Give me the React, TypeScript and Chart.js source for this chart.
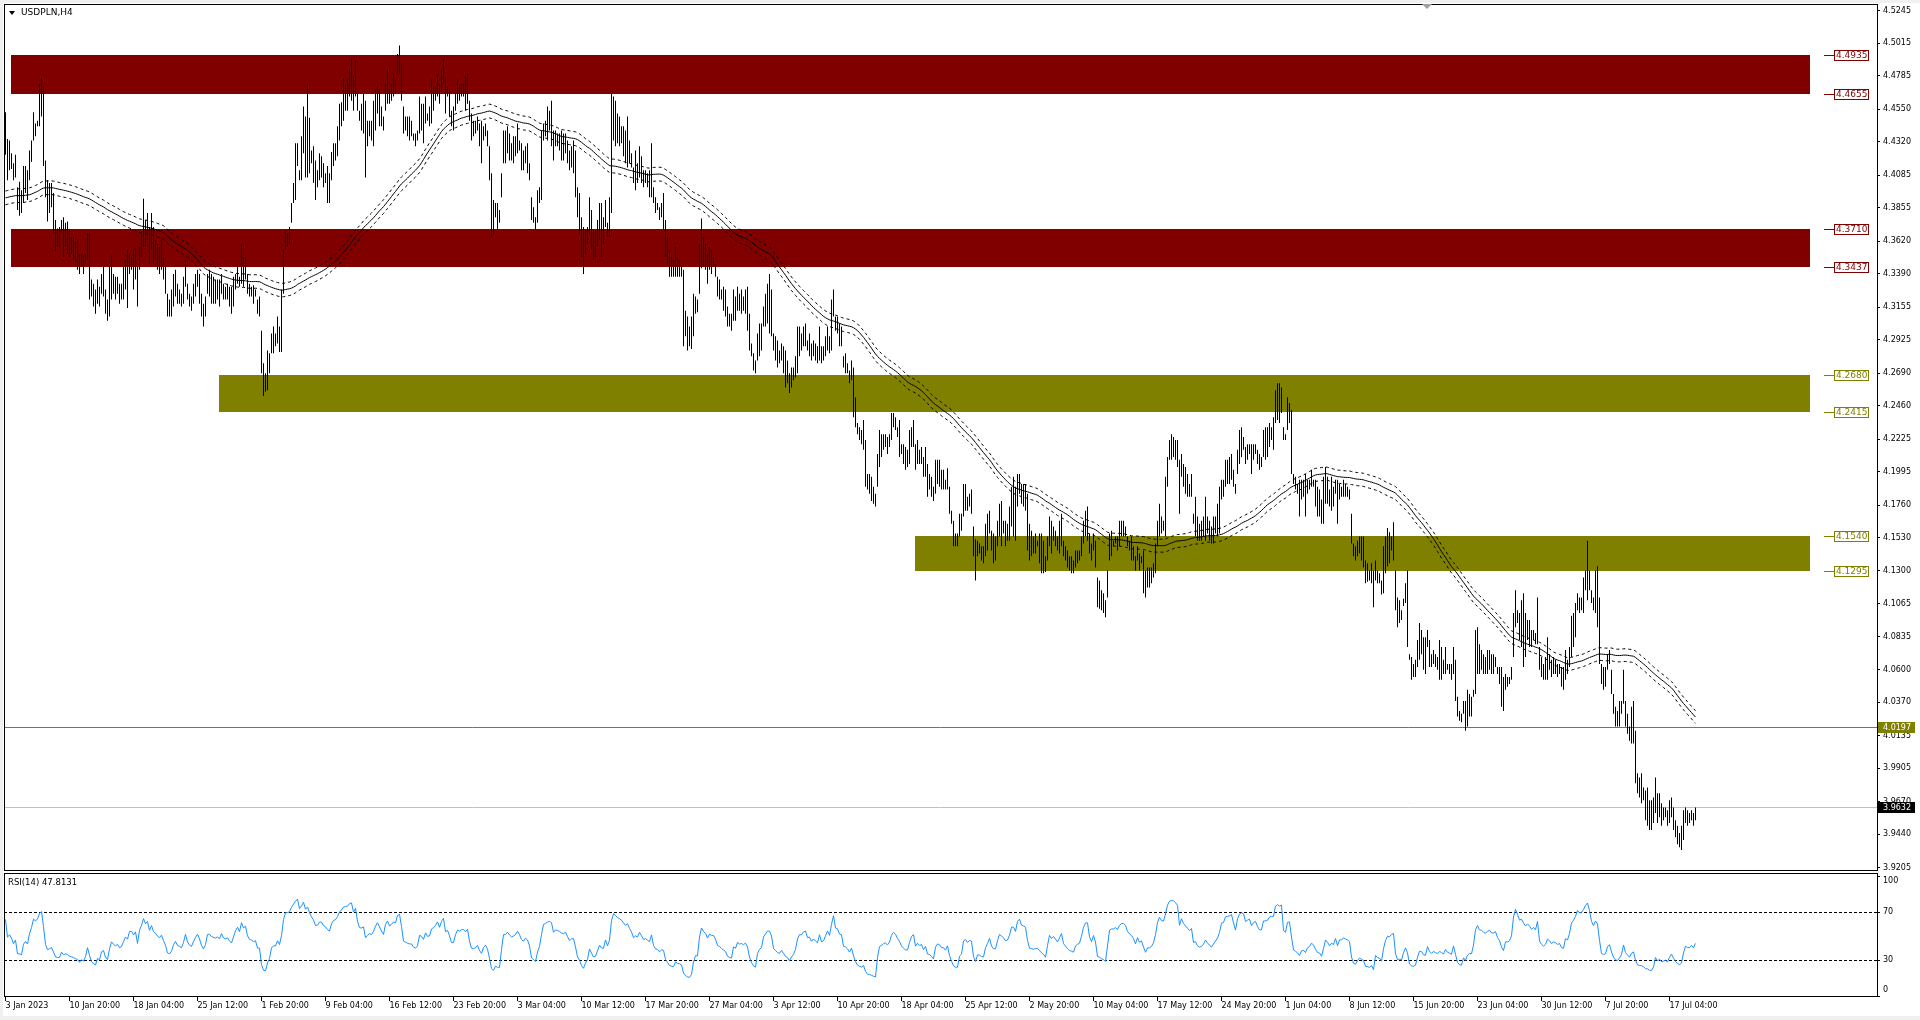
import React, { useEffect, useRef } from 'react';
import { Chart, registerables } from 'chart.js';

Chart.register(...registerables);

// ---- H4 bar highs / lows (USDPLN), one entry per bar ----
const HIGH = [
4.453,4.434,4.433,4.424,4.417,4.423,4.400,4.404,4.398,4.415,
4.415,4.412,4.426,4.433,4.453,4.445,4.447,4.473,4.477,4.471,
4.419,4.405,4.403,4.403,4.396,4.377,4.371,4.372,4.377,4.379,
4.375,4.376,4.370,4.365,4.365,4.362,4.363,4.353,4.353,4.352,
4.353,4.368,4.368,4.335,4.332,4.328,4.335,4.330,4.339,4.344,
4.328,4.321,4.344,4.352,4.339,4.337,4.337,4.332,4.332,4.344,
4.349,4.356,4.353,4.351,4.356,4.357,4.344,4.358,4.368,4.392,
4.377,4.382,4.372,4.382,4.372,4.363,4.360,4.358,4.363,4.351,
4.344,4.325,4.321,4.328,4.339,4.342,4.332,4.328,4.325,4.337,
4.349,4.332,4.325,4.323,4.332,4.339,4.342,4.339,4.325,4.318,
4.323,4.339,4.342,4.339,4.337,4.335,4.335,4.335,4.339,4.332,
4.330,4.332,4.330,4.330,4.337,4.339,4.344,4.337,4.360,4.351,
4.351,4.339,4.332,4.330,4.331,4.328,4.321,4.323,4.299,4.276,
4.269,4.285,4.283,4.297,4.302,4.297,4.309,4.302,4.328,4.356,
4.369,4.368,4.372,4.389,4.403,4.431,4.431,4.412,4.436,4.457,
4.450,4.472,4.449,4.426,4.429,4.419,4.412,4.424,4.422,4.417,
4.410,4.415,4.410,4.425,4.431,4.431,4.443,4.459,4.460,4.477,
4.472,
4.476,4.483,4.491,4.478,4.490,4.466,4.454,4.459,4.466,4.461,
4.447,4.447,4.447,4.461,4.469,4.471,4.469,4.457,4.450,4.473,
4.483,4.469,4.473,4.480,4.476,4.494,4.500,4.487,4.457,4.450,
4.450,4.450,4.447,4.438,4.438,4.440,4.464,4.459,4.459,4.464,
4.452,4.457,4.476,4.471,4.471,4.480,4.473,4.483,4.491,4.478,
4.471,4.469,4.454,4.457,4.466,4.476,4.471,4.473,4.473,4.478,
4.480,4.461,4.452,4.447,4.447,4.450,4.445,4.447,4.443,4.445,
4.440,4.429,4.410,4.391,4.389,4.389,4.384,4.410,4.440,4.440,
4.443,4.438,4.431,4.436,4.436,4.445,4.433,4.431,4.426,4.429,
4.431,4.417,4.393,4.386,4.379,4.398,4.400,4.440,4.445,4.447,
4.457,4.454,4.461,4.440,4.440,4.438,4.438,4.440,4.438,4.438,
4.433,4.426,4.429,4.433,4.426,4.400,4.396,4.379,4.372,4.370,
4.372,4.393,4.384,4.370,4.370,4.377,4.389,4.389,4.379,4.391,
4.375,4.393,4.466,4.464,4.461,4.452,4.450,4.443,4.443,4.440,
4.450,4.433,4.424,4.414,4.426,4.417,4.429,4.422,4.412,4.412,
4.410,4.412,4.431,4.400,4.393,4.389,4.386,4.389,4.396,4.377,
4.365,4.356,4.351,4.349,4.358,4.351,4.349,4.344,4.342,4.313,
4.309,4.302,4.309,4.325,4.323,4.321,4.360,4.378,4.365,4.360,
4.353,4.358,4.356,4.351,4.346,4.337,4.335,4.328,4.330,4.328,
4.316,4.311,4.311,4.328,4.323,4.330,4.325,4.328,4.323,4.328,
4.330,4.311,4.290,4.283,4.278,4.297,4.304,4.304,4.316,4.325,
4.332,4.339,4.328,4.297,4.295,4.292,4.285,4.290,4.288,4.285,
4.278,4.269,4.273,4.273,4.281,4.302,4.302,4.297,4.302,4.304,
4.292,4.297,4.290,4.292,4.290,4.288,4.302,4.288,4.288,4.295,
4.302,4.295,4.321,4.328,4.309,4.309,4.304,4.302,4.281,4.283,
4.276,4.271,4.278,4.273,4.252,4.234,4.231,4.229,4.236,4.222,
4.198,4.198,4.196,4.189,4.184,4.212,4.229,4.226,4.226,4.226,
4.224,4.226,4.241,4.241,4.238,4.231,4.236,4.219,4.219,4.217,
4.215,4.229,4.231,4.236,4.219,4.222,4.215,4.217,4.210,4.217,
4.205,4.198,4.196,4.189,4.208,4.208,4.208,4.201,4.201,4.194,
4.202,4.189,4.172,4.165,4.156,4.156,4.170,4.170,4.191,4.191,
4.182,4.184,4.187,4.161,4.152,4.151,4.149,4.147,4.147,4.163,
4.170,4.172,4.158,4.156,4.154,4.165,4.177,4.179,4.165,4.165,
4.163,4.175,4.189,4.196,4.189,4.198,4.198,4.191,4.191,4.191,
4.184,4.163,4.158,4.154,4.156,4.151,4.156,4.156,4.151,4.140,
4.154,4.168,4.165,4.161,4.158,4.154,4.165,4.170,4.151,4.147,
4.144,4.140,4.140,4.137,4.144,4.144,4.144,4.154,4.165,4.172,
4.175,4.156,4.149,4.156,4.151,4.125,4.123,4.116,4.114,4.109,
4.130,4.156,4.158,4.151,4.154,4.154,4.165,4.165,4.165,4.161,
4.154,4.151,4.154,4.147,4.140,4.147,4.142,4.140,4.144,4.130,
4.132,4.132,4.132,4.135,4.149,4.165,4.177,4.168,4.165,4.196,
4.210,4.222,4.226,4.224,4.222,4.222,4.208,4.212,4.205,4.203,
4.198,4.191,4.198,4.170,4.182,4.168,4.163,4.165,4.168,4.182,
4.168,4.165,4.161,4.168,4.168,4.177,4.189,4.194,4.194,4.208,
4.208,4.210,4.212,4.201,4.191,4.215,4.229,4.231,4.224,4.217,
4.219,4.219,4.219,4.219,4.219,4.215,4.212,4.210,4.229,4.231,
4.231,4.234,4.231,4.238,4.257,4.262,4.262,4.259,4.231,4.226,
4.252,4.248,4.243,4.198,4.196,4.191,4.194,4.194,4.194,4.198,
4.194,4.194,4.201,4.194,4.194,4.189,4.187,4.180,4.196,4.203,
4.196,4.187,4.196,4.189,4.194,4.194,4.191,4.189,4.194,4.191,
4.189,4.187,4.170,4.149,4.147,4.151,4.154,4.154,4.154,4.137,
4.135,4.130,4.135,4.130,4.137,4.130,4.128,4.123,4.147,4.154,
4.160,4.157,4.154,4.164,4.130,4.111,4.109,4.102,4.110,4.121,
4.130,4.071,4.069,4.064,4.067,4.081,4.093,4.088,4.083,4.083,
4.088,4.081,4.071,4.074,4.071,4.069,4.081,4.076,4.067,4.076,
4.064,4.064,4.064,4.076,4.067,4.041,4.031,4.029,4.038,4.038,
4.046,4.043,4.041,4.046,4.088,4.090,4.078,4.074,4.071,4.069,
4.074,4.074,4.071,4.071,4.069,4.062,4.062,4.062,4.055,4.057,
4.055,4.055,4.062,4.100,4.116,4.102,4.100,4.109,4.114,4.100,
4.095,4.095,4.088,4.088,4.086,4.111,4.076,4.069,4.064,4.069,
4.083,4.071,4.067,4.069,4.067,4.064,4.064,4.062,4.062,4.074,
4.067,4.076,4.098,4.100,4.107,4.114,4.111,4.111,4.125,4.130,
4.151,4.130,4.116,4.111,4.130,4.133,4.111,4.064,4.062,4.062,
4.071,4.074,4.060,4.043,4.034,4.031,4.038,4.038,4.060,4.038,
4.029,4.020,4.034,4.038,4.017,3.987,3.984,3.987,3.977,3.975,
3.977,3.968,3.968,3.970,3.984,3.973,3.973,3.966,3.963,3.963,
3.961,3.968,3.970,3.963,3.954,3.950,3.945,3.950,3.961,3.963,
3.961,3.959,3.961,3.959,3.963
];

const LOW = [
4.423,4.405,4.412,4.413,4.405,4.407,4.384,4.380,4.382,4.389,
4.396,4.391,4.405,4.418,4.433,4.436,4.443,4.443,4.450,4.415,
4.393,4.376,4.382,4.386,4.368,4.355,4.358,4.357,4.368,4.351,
4.358,4.353,4.351,4.353,4.349,4.347,4.342,4.339,4.344,4.339,
4.346,4.349,4.321,4.323,4.316,4.311,4.318,4.316,4.325,4.323,
4.311,4.306,4.309,4.321,4.325,4.321,4.325,4.318,4.321,4.321,
4.328,4.315,4.339,4.342,4.328,4.335,4.316,4.342,4.351,4.358,
4.358,4.363,4.346,4.356,4.346,4.349,4.342,4.339,4.342,4.335,
4.325,4.309,4.309,4.309,4.316,4.323,4.318,4.318,4.316,4.318,
4.330,4.321,4.316,4.313,4.318,4.323,4.330,4.318,4.309,4.302,
4.309,4.325,4.323,4.318,4.318,4.318,4.321,4.316,4.325,4.321,
4.321,4.321,4.316,4.311,4.316,4.328,4.332,4.330,4.332,4.330,
4.335,4.325,4.323,4.323,4.318,4.323,4.311,4.309,4.269,4.253,
4.256,4.257,4.269,4.283,4.283,4.288,4.290,4.284,4.284,4.325,
4.356,4.358,4.360,4.375,4.389,4.391,4.415,4.405,4.405,4.424,
4.407,4.407,4.410,4.417,4.403,4.391,4.400,4.405,4.407,4.400,
4.403,4.389,4.389,4.405,4.415,4.419,4.422,4.433,4.443,4.447,
4.454,
4.454,4.464,4.461,4.454,4.464,4.454,4.447,4.440,4.438,4.407,
4.429,4.436,4.433,4.429,4.440,4.452,4.443,4.443,4.440,4.454,
4.459,4.459,4.461,4.464,4.466,4.480,4.480,4.461,4.438,4.440,
4.436,4.433,4.436,4.433,4.429,4.433,4.438,4.440,4.431,4.445,
4.447,4.443,4.445,4.454,4.461,4.464,4.459,4.469,4.473,4.452,
4.464,4.450,4.443,4.440,4.454,4.459,4.461,4.464,4.464,4.454,
4.459,4.447,4.433,4.436,4.438,4.440,4.429,4.417,4.433,4.436,
4.429,4.405,4.365,4.367,4.379,4.370,4.375,4.393,4.417,4.417,
4.424,4.419,4.419,4.417,4.422,4.424,4.426,4.412,4.412,4.417,
4.410,4.405,4.377,4.375,4.370,4.375,4.389,4.391,4.433,4.436,
4.433,4.440,4.429,4.419,4.429,4.429,4.426,4.419,4.419,4.424,
4.417,4.412,4.414,4.410,4.393,4.379,4.367,4.351,4.339,4.353,
4.360,4.367,4.356,4.349,4.351,4.358,4.363,4.351,4.360,4.372,
4.365,4.365,4.382,4.433,4.429,4.431,4.429,4.431,4.422,4.417,
4.414,4.417,4.414,4.403,4.398,4.403,4.407,4.403,4.400,4.403,
4.400,4.393,4.393,4.389,4.382,4.384,4.377,4.379,4.370,4.351,
4.346,4.337,4.337,4.337,4.337,4.337,4.337,4.337,4.288,4.295,
4.285,4.288,4.286,4.295,4.311,4.312,4.325,4.343,4.344,4.342,
4.332,4.342,4.339,4.344,4.337,4.323,4.321,4.321,4.313,4.309,
4.302,4.302,4.299,4.306,4.306,4.313,4.313,4.311,4.313,4.311,
4.299,4.285,4.281,4.271,4.269,4.278,4.281,4.285,4.302,4.302,
4.304,4.297,4.295,4.285,4.278,4.273,4.276,4.278,4.269,4.259,
4.262,4.255,4.259,4.264,4.266,4.269,4.281,4.285,4.288,4.288,
4.285,4.281,4.278,4.281,4.278,4.276,4.278,4.276,4.278,4.281,
4.285,4.283,4.285,4.309,4.299,4.297,4.288,4.288,4.273,4.269,
4.269,4.262,4.264,4.238,4.231,4.226,4.222,4.219,4.215,4.189,
4.187,4.184,4.179,4.177,4.175,4.189,4.203,4.210,4.215,4.217,
4.212,4.217,4.222,4.231,4.229,4.224,4.210,4.212,4.205,4.201,
4.203,4.205,4.217,4.217,4.201,4.205,4.205,4.205,4.196,4.196,
4.182,4.187,4.182,4.179,4.184,4.191,4.189,4.187,4.187,4.187,
4.187,4.170,4.163,4.147,4.147,4.147,4.154,4.158,4.168,4.172,
4.172,4.175,4.170,4.140,4.123,4.140,4.142,4.137,4.135,4.140,
4.144,4.156,4.144,4.135,4.137,4.147,4.154,4.147,4.156,4.147,
4.151,4.151,4.161,4.154,4.151,4.175,4.184,4.177,4.175,4.172,
4.144,4.137,4.140,4.142,4.142,4.147,4.135,4.128,4.128,4.129,
4.137,4.147,4.142,4.151,4.147,4.144,4.142,4.147,4.140,4.137,
4.132,4.130,4.128,4.128,4.132,4.135,4.137,4.140,4.149,4.154,
4.151,4.142,4.137,4.144,4.132,4.104,4.103,4.102,4.100,4.097,
4.111,4.137,4.140,4.147,4.149,4.144,4.147,4.154,4.154,4.154,
4.147,4.144,4.137,4.137,4.130,4.137,4.130,4.135,4.114,4.111,
4.118,4.118,4.121,4.125,4.128,4.147,4.154,4.156,4.158,4.154,
4.189,4.208,4.208,4.210,4.208,4.203,4.170,4.196,4.189,4.184,
4.182,4.182,4.182,4.163,4.154,4.151,4.151,4.151,4.154,4.151,
4.156,4.151,4.149,4.149,4.156,4.154,4.156,4.180,4.182,4.189,
4.191,4.191,4.194,4.189,4.184,4.198,4.205,4.210,4.215,4.205,
4.208,4.212,4.198,4.208,4.212,4.205,4.201,4.203,4.210,4.208,
4.210,4.217,4.222,4.215,4.234,4.236,4.234,4.241,4.222,4.222,
4.229,4.234,4.198,4.191,4.187,4.184,4.168,4.180,4.182,4.168,
4.184,4.187,4.189,4.189,4.175,4.168,4.168,4.163,4.163,4.177,
4.177,4.175,4.172,4.175,4.184,4.163,4.180,4.182,4.182,4.182,
4.182,4.180,4.149,4.140,4.137,4.140,4.142,4.137,4.132,4.121,
4.122,4.123,4.121,4.104,4.123,4.121,4.121,4.113,4.114,4.128,
4.133,4.135,4.144,4.137,4.102,4.090,4.093,4.095,4.105,4.107,
4.076,4.067,4.053,4.055,4.055,4.062,4.067,4.071,4.060,4.057,
4.076,4.062,4.062,4.064,4.062,4.060,4.053,4.053,4.057,4.057,
4.060,4.057,4.053,4.057,4.038,4.027,4.024,4.023,4.029,4.017,
4.020,4.027,4.027,4.041,4.043,4.057,4.057,4.060,4.057,4.057,
4.057,4.060,4.057,4.057,4.062,4.057,4.050,4.034,4.031,4.046,
4.048,4.050,4.053,4.069,4.090,4.093,4.081,4.076,4.062,4.069,
4.081,4.076,4.076,4.081,4.078,4.078,4.060,4.055,4.053,4.053,
4.053,4.060,4.055,4.057,4.057,4.055,4.057,4.048,4.046,4.053,
4.057,4.062,4.069,4.076,4.083,4.102,4.100,4.102,4.100,4.116,
4.109,4.116,4.107,4.102,4.100,4.090,4.064,4.050,4.046,4.048,
4.060,4.064,4.043,4.029,4.020,4.020,4.020,4.029,4.036,4.020,
4.015,4.010,4.008,4.008,3.980,3.973,3.970,3.966,3.968,3.954,
3.950,3.947,3.947,3.952,3.959,3.952,3.956,3.950,3.954,3.956,
3.950,3.952,3.956,3.947,3.942,3.937,3.935,3.933,3.940,3.952,
3.950,3.952,3.954,3.950,3.954
];

// ---- axes ----
const PRICE_TICKS = [4.5245, 4.5015, 4.4785, 4.4550, 4.4320, 4.4085, 4.3855, 4.3620, 4.3390, 4.3155,
  4.2925, 4.2690, 4.2460, 4.2225, 4.1995, 4.1760, 4.1530, 4.1300, 4.1065, 4.0835, 4.0600, 4.0370,
  4.0135, 3.9905, 3.9670, 3.9440, 3.9205];
const PRICE_MIN = 3.91819;
const PRICE_MAX = 4.52922;
const TIME_LABELS = ['3 Jan 2023', '10 Jan 20:00', '18 Jan 04:00', '25 Jan 12:00', '1 Feb 20:00', '9 Feb 04:00',
  '16 Feb 12:00', '23 Feb 20:00', '3 Mar 04:00', '10 Mar 12:00', '17 Mar 20:00', '27 Mar 04:00', '3 Apr 12:00',
  '10 Apr 20:00', '18 Apr 04:00', '25 Apr 12:00', '2 May 20:00', '10 May 04:00', '17 May 12:00', '24 May 20:00',
  '1 Jun 04:00', '8 Jun 12:00', '15 Jun 20:00', '23 Jun 04:00', '30 Jun 12:00', '7 Jul 20:00', '17 Jul 04:00'];
const TIME_LABEL_BARS = [0, 32, 64, 96, 128, 160, 192, 224, 256, 288, 320, 352, 384, 416, 448, 480, 512, 544,
  576, 608, 640, 672, 704, 736, 768, 800, 832];
const BAR_MIN = -0.75;
const BAR_MAX = 935.75;

// ---- zones / levels ----
const ZONE_TOP = [4.4935, 4.3710, 4.2680, 4.1540];
const ZONE_BOTTOM = [4.4655, 4.3437, 4.2415, 4.1295];
const ZONE_START_BAR = [2.75, 2.75, 106.75, 454.75];
const ZONE_END_BAR = 902.25;
const ZONE_COLOR = ['#800000', '#800000', '#808000', '#808000'];
const SUPPORT_LEVEL = 4.0197;
const LAST_PRICE = 3.9632;

// ---- indicators ----
const MA_PERIOD = 80;
const MA_SEED = 4.392;
const ENVELOPE_DEV = 0.0011;
const RSI_PERIOD = 14;
const RSI_SEED_GAIN = 0.0030;
const RSI_SEED_LOSS = 0.0017;
const RSI_LEVELS = [70, 30];
const RSI_TICKS = [100, 70, 30, 0];
const RSI_TEXT = 'RSI(14) 47.8131';
const RSI_MIN = -0.83;
const RSI_MAX = 102.5;

const FONT = 'DejaVu Sans';

const median = HIGH.map((h, i) => (h + LOW[i]) / 2);

function smaSeries(): number[] {
  return median.map((_, i) => {
    let s = 0;
    for (let j = i - MA_PERIOD + 1; j <= i; j++) s += j >= 0 ? median[j] : MA_SEED;
    return s / MA_PERIOD;
  });
}

function rsiSeries(): number[] {
  const out: number[] = [];
  let ag = RSI_SEED_GAIN, al = RSI_SEED_LOSS;
  for (let i = 0; i < median.length; i++) {
    if (i > 0) {
      const d = median[i] - median[i - 1];
      const g = Math.max(d, 0), l = Math.max(-d, 0);
      ag = (ag * (RSI_PERIOD - 1) + g) / RSI_PERIOD;
      al = (al * (RSI_PERIOD - 1) + l) / RSI_PERIOD;
    }
    out.push(al === 0 ? 100 : 100 - 100 / (1 + ag / al));
  }
  return out;
}

const zeroPad = (scale: any) => {
  scale.paddingTop = 0; scale.paddingBottom = 0; scale.paddingLeft = 0; scale.paddingRight = 0;
};

function priceTag(ctx: CanvasRenderingContext2D, yPix: number, value: number, color: string) {
  const yc = Math.round(yPix) + 0.5;
  ctx.strokeStyle = color;
  ctx.lineWidth = 1;
  ctx.beginPath(); ctx.moveTo(1824, yc); ctx.lineTo(1834, yc); ctx.stroke();
  ctx.fillStyle = '#ffffff';
  ctx.fillRect(1834, yc - 5.5, 35, 11);
  ctx.strokeRect(1834.5, yc - 5, 34, 10);
  ctx.fillStyle = color;
  ctx.font = `9px "${FONT}"`;
  ctx.textAlign = 'left';
  ctx.textBaseline = 'middle';
  ctx.fillText(value.toFixed(4), 1836, yc + 0.5);
}

function axisTag(ctx: CanvasRenderingContext2D, yPix: number, value: number, bg: string) {
  const yc = Math.round(yPix);
  ctx.fillStyle = bg;
  ctx.fillRect(1878, yc - 5, 37, 11);
  ctx.fillStyle = '#ffffff';
  ctx.font = `8px "${FONT}"`;
  ctx.textAlign = 'left';
  ctx.textBaseline = 'middle';
  ctx.fillText(value.toFixed(4), 1883, yc + 0.5);
}

const mainDecor = {
  id: 'mainDecor',
  beforeDatasetsDraw(chart: any) {
    const { ctx, chartArea: a } = chart;
    const x = chart.scales.x, y = chart.scales.y;
    ctx.save();
    ctx.beginPath(); ctx.rect(a.left, a.top, a.right - a.left, a.bottom - a.top); ctx.clip();
    ZONE_TOP.forEach((top, k) => {
      const x0 = Math.round(x.getPixelForValue(ZONE_START_BAR[k]));
      const x1 = Math.round(x.getPixelForValue(ZONE_END_BAR));
      const y0 = Math.round(y.getPixelForValue(top));
      const y1 = Math.round(y.getPixelForValue(ZONE_BOTTOM[k]));
      ctx.fillStyle = ZONE_COLOR[k];
      ctx.fillRect(x0, y0, x1 - x0, y1 - y0);
    });
    const ys = Math.round(y.getPixelForValue(SUPPORT_LEVEL)) + 0.5;
    ctx.strokeStyle = '#808000'; ctx.lineWidth = 1;
    ctx.beginPath(); ctx.moveTo(a.left, ys); ctx.lineTo(a.right, ys); ctx.stroke();
    const yl = Math.round(y.getPixelForValue(LAST_PRICE)) + 0.5;
    ctx.strokeStyle = '#C0C0C0';
    ctx.beginPath(); ctx.moveTo(a.left, yl); ctx.lineTo(a.right, yl); ctx.stroke();
    ctx.restore();
  },
  afterDraw(chart: any) {
    const { ctx } = chart;
    const y = chart.scales.y;
    ctx.save();
    ZONE_TOP.forEach((top, k) => {
      priceTag(ctx, y.getPixelForValue(top), top, ZONE_COLOR[k]);
      priceTag(ctx, y.getPixelForValue(ZONE_BOTTOM[k]), ZONE_BOTTOM[k], ZONE_COLOR[k]);
    });
    axisTag(ctx, y.getPixelForValue(SUPPORT_LEVEL), SUPPORT_LEVEL, '#808000');
    axisTag(ctx, y.getPixelForValue(LAST_PRICE), LAST_PRICE, '#000000');
    ctx.strokeStyle = '#000'; ctx.lineWidth = 1;
    ctx.strokeRect(4.5, 4.5, 1873, 866);
    ctx.fillStyle = '#000';
    ctx.beginPath(); ctx.moveTo(9, 11); ctx.lineTo(15, 11); ctx.lineTo(12, 15); ctx.closePath(); ctx.fill();
    ctx.font = `9px "${FONT}"`;
    ctx.textAlign = 'left'; ctx.textBaseline = 'middle';
    ctx.fillText('USDPLN,H4', 21, 13);
    ctx.fillStyle = '#A0A0A0';
    ctx.beginPath(); ctx.moveTo(1422, 4); ctx.lineTo(1432, 4); ctx.lineTo(1427, 9); ctx.closePath(); ctx.fill();
    ctx.restore();
  },
};

const rsiDecor = {
  id: 'rsiDecor',
  beforeDatasetsDraw(chart: any) {
    const { ctx, chartArea: a } = chart;
    const y = chart.scales.y;
    ctx.save();
    ctx.strokeStyle = '#000'; ctx.lineWidth = 1; ctx.setLineDash([3, 2]);
    RSI_LEVELS.forEach((lv) => {
      const yy = Math.round(y.getPixelForValue(lv)) + 0.5;
      ctx.beginPath(); ctx.moveTo(a.left, yy); ctx.lineTo(a.right, yy); ctx.stroke();
    });
    ctx.restore();
  },
  afterDraw(chart: any) {
    const { ctx, chartArea: a } = chart;
    const y = chart.scales.y;
    ctx.save();
    ctx.strokeStyle = '#000'; ctx.lineWidth = 1;
    ctx.strokeRect(4.5, 1.5, 1873, 123);
    ctx.fillStyle = '#000';
    ctx.font = `8px "${FONT}"`;
    ctx.textAlign = 'left'; ctx.textBaseline = 'middle';
    RSI_TICKS.forEach((t) => {
      const p = Math.min(Math.max(y.getPixelForValue(t), a.top + 8), a.bottom - 7);
      ctx.fillText(String(t), 1883, p);
    });
    ctx.font = `8.5px "${FONT}"`;
    ctx.fillText(RSI_TEXT, 8, 11);
    ctx.restore();
  },
};

export default function App() {
  const mainRef = useRef<HTMLCanvasElement>(null);
  const rsiRef = useRef<HTMLCanvasElement>(null);

  useEffect(() => {
    const ma = smaSeries();
    const rsi = rsiSeries();
    const bars = HIGH.map((h, i) => ({ x: i, y: [LOW[i], h] }));
    const maPts = ma.map((v, i) => ({ x: i, y: v }));
    const upPts = ma.map((v, i) => ({ x: i, y: v * (1 + ENVELOPE_DEV) }));
    const loPts = ma.map((v, i) => ({ x: i, y: v * (1 - ENVELOPE_DEV) }));
    const rsiPts = rsi.map((v, i) => ({ x: i, y: v }));

    const main = new Chart(mainRef.current as HTMLCanvasElement, {
      type: 'bar',
      data: {
        datasets: [
          { type: 'line', data: maPts, borderColor: '#000', borderWidth: 1, pointRadius: 0, tension: 0 } as any,
          { type: 'line', data: upPts, borderColor: '#000', borderWidth: 1, borderDash: [3, 3], pointRadius: 0 } as any,
          { type: 'line', data: loPts, borderColor: '#000', borderWidth: 1, borderDash: [3, 3], pointRadius: 0 } as any,
          { type: 'bar', data: bars, backgroundColor: '#000', borderWidth: 0, barThickness: 1, inflateAmount: 0 } as any,
        ],
      },
      options: {
        responsive: false,
        maintainAspectRatio: false,
        devicePixelRatio: 1,
        animation: false,
        events: [],
        layout: { padding: { left: 4, top: 4, right: 0, bottom: 2 } },
        plugins: { legend: { display: false }, tooltip: { enabled: false } },
        scales: {
          x: { type: 'linear', display: false, min: BAR_MIN, max: BAR_MAX, offset: false },
          y: {
            type: 'linear', position: 'right', min: PRICE_MIN, max: PRICE_MAX, beginAtZero: false,
            afterBuildTicks: (s: any) => { s.ticks = PRICE_TICKS.map((v) => ({ value: v })); },
            afterFit: (s: any) => { s.width = 43; zeroPad(s); },
            border: { display: false },
            grid: { drawOnChartArea: false, drawTicks: true, tickLength: 3, color: '#000' },
            ticks: {
              autoSkip: false, padding: 3, color: '#000', font: { family: FONT, size: 8 },
              callback: (v: any) => Number(v).toFixed(4),
            },
          },
        },
      } as any,
      plugins: [mainDecor],
    });

    const rsiChart = new Chart(rsiRef.current as HTMLCanvasElement, {
      type: 'line',
      data: {
        datasets: [
          { data: rsiPts, borderColor: '#1E90FF', borderWidth: 1, pointRadius: 0, tension: 0 } as any,
        ],
      },
      options: {
        responsive: false,
        maintainAspectRatio: false,
        devicePixelRatio: 1,
        animation: false,
        events: [],
        layout: { padding: { left: 4, top: 1, right: 0, bottom: 0 } },
        plugins: { legend: { display: false }, tooltip: { enabled: false } },
        scales: {
          x: {
            type: 'linear', min: BAR_MIN, max: BAR_MAX, offset: false,
            afterBuildTicks: (s: any) => { s.ticks = TIME_LABEL_BARS.map((v) => ({ value: v })); },
            afterFit: (s: any) => { s.height = 23; zeroPad(s); },
            border: { display: false },
            grid: { drawOnChartArea: false, drawTicks: true, tickLength: 4, color: '#000' },
            ticks: {
              autoSkip: false, maxRotation: 0, minRotation: 0, align: 'start', padding: 0,
              color: '#000', font: { family: FONT, size: 8 },
              callback: (_v: any, idx: number) => TIME_LABELS[idx],
            },
          },
          y: {
            type: 'linear', position: 'right', min: RSI_MIN, max: RSI_MAX,
            afterBuildTicks: (s: any) => { s.ticks = RSI_TICKS.map((v) => ({ value: v })); },
            afterFit: (s: any) => { s.width = 43; zeroPad(s); },
            border: { display: false },
            grid: { drawOnChartArea: false, drawTicks: true, tickLength: 3, color: '#000' },
            ticks: { display: false },
          },
        },
      } as any,
      plugins: [rsiDecor],
    });

    return () => { main.destroy(); rsiChart.destroy(); };
  }, []);

  return (
    <div style={{ position: 'absolute', left: 0, top: 0, width: 1920, height: 1020, background: '#F0F0F0', overflow: 'hidden' }}>
      <div style={{ position: 'absolute', left: 3, top: 3, width: 1917, height: 1013, background: '#ffffff' }} />
      <canvas ref={mainRef} width={1920} height={873}
        style={{ position: 'absolute', left: 0, top: 0, width: 1920, height: 873 }} />
      <canvas ref={rsiRef} width={1920} height={148}
        style={{ position: 'absolute', left: 0, top: 872, width: 1920, height: 148 }} />
    </div>
  );
}
